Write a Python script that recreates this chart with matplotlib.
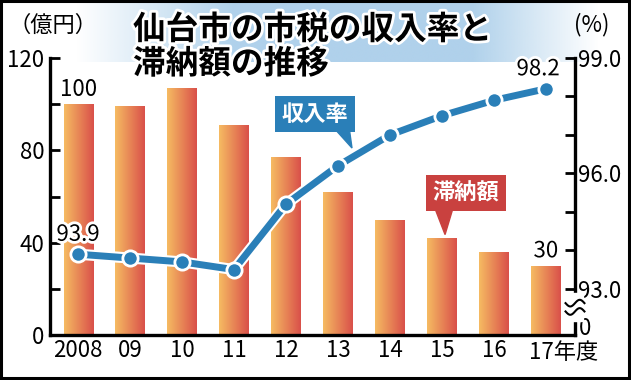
import matplotlib
matplotlib.use("Agg")
import matplotlib.pyplot as plt
import matplotlib.patheffects as pe
from matplotlib.patches import Polygon, Rectangle
import numpy as np

plt.rcParams['font.family'] = ['Noto Sans CJK JP', 'DejaVu Sans']

# data
years = ["2008", "09", "10", "11", "12", "13", "14", "15", "16", "17年度"]
arrears = [100, 99, 107, 91, 77, 62, 50, 42, 36, 30]          # 滞納額 (億円)
collect_rate = [93.9, 93.8, 93.7, 93.5, 95.2, 96.2, 97.0, 97.5, 97.9, 98.2]  # 収入率 (%)

title = "仙台市の市税の収入率と\n滞納額の推移"
blue = "#2a7fb8"
red = "#c9413f"

W, H = 631, 380
fig = plt.figure(figsize=(W / 100, H / 100), dpi=100)

# title background: light blue fading band
bg = fig.add_axes([0, 0, 1, 1], zorder=0)
bg.set_xlim(0, W)
bg.set_ylim(H, 0)
bg.axis("off")
xs = np.linspace(0, 1, 300)
alpha = np.clip(np.minimum((xs - 0.12) / 0.25, (0.95 - xs) / 0.2), 0, 1)
rgba = np.zeros((1, 300, 4))
rgba[..., :3] = matplotlib.colors.to_rgb("#9cc6e6")
rgba[..., 3] = alpha * 0.8
bg.imshow(rgba, extent=(0, W, 62, 0), aspect="auto", interpolation="bilinear")
bg.add_patch(Rectangle((1, 1), W - 3, H - 3, fill=False, lw=2.2, ec="black"))

# main axes
ax = fig.add_axes([50 / W, 1 - 335 / H, 525 / W, 277 / H], zorder=2)
ax.patch.set_alpha(0)
x = np.arange(len(years))
bars = ax.bar(x, arrears, width=0.56, color="none", zorder=2)

grad = np.zeros((1, 100, 3))
c1 = np.array(matplotlib.colors.to_rgb("#f6bb62"))
c2 = np.array(matplotlib.colors.to_rgb("#d9504a"))
for i, t in enumerate(np.linspace(0, 1, 100)):
    grad[0, i] = c1 * (1 - t) + c2 * t
for b in bars:
    im = ax.imshow(grad, extent=(b.get_x(), b.get_x() + b.get_width(), 0, b.get_height()),
                   aspect="auto", zorder=2, interpolation="bilinear")
    im.set_clip_path(b)

ax.set_xlim(-0.54, 9.56)
ax.set_ylim(0, 120)
ax.set_xticks(x)
ax.set_xticklabels(years[:-1] + [""], fontsize=16)
# last label sits a bit to the right, starting near the bar's left edge
ax.annotate(years[-1], xy=(x[-1], 0), xycoords=("data", "axes fraction"),
            xytext=(-12, -4.5), textcoords="offset points", ha="left", va="top", fontsize=16)
ax.set_yticks([0, 40, 80, 120])
ax.set_yticks([20, 60, 100], minor=True)
ax.tick_params(axis="y", which="both", direction="in", length=7, width=2, labelsize=16, pad=4)
ax.tick_params(axis="x", length=0, pad=3)
ax.spines["top"].set_visible(False)
ax.spines["right"].set_visible(False)
for s in ["left", "bottom"]:
    ax.spines[s].set_linewidth(2.4)

# rate axis
ax2 = ax.twinx()
ax2.set_zorder(3)
ax2.set_ylim(91.8, 99.0)
ax2.set_yticks([93.0, 96.0, 99.0])
ax2.set_yticklabels(["93.0", "96.0", "99.0"])
ax2.set_yticks([94, 95, 97, 98], minor=True)
ax2.tick_params(axis="y", which="both", direction="in", length=7, width=2, labelsize=16, pad=2)
ax2.spines["right"].set_linewidth(2.4)
for s in ["top", "left", "bottom"]:
    ax2.spines[s].set_visible(False)
# broken-axis zero sits just above the baseline
ax2.annotate("0", xy=(1, 0), xycoords="axes fraction", xytext=(3, 5), textcoords="offset points",
             ha="left", va="center", fontsize=16)

ax2.plot(x, collect_rate, color=blue, lw=5, solid_capstyle="butt",
         path_effects=[pe.Stroke(linewidth=8, foreground="white"), pe.Normal()], zorder=4)
ax2.plot(x, collect_rate, ls="none", marker="o", ms=11, mfc=blue, mec="white", mew=2, zorder=5)

# axis break on the right spine
tb = ax2.transAxes
ax2.add_patch(Rectangle((0.985, 0.05), 0.03, 0.1, transform=tb, color="white", zorder=5, clip_on=False))
wt = np.linspace(-0.018, 0.018, 40)
for yy in (0.085, 0.115):
    ax2.plot(1 + wt, yy + 0.012 * np.sin(wt / 0.018 * np.pi), transform=tb, color="black",
             lw=1.5, clip_on=False, zorder=6)

# value labels
halo = [pe.withStroke(linewidth=4, foreground="white")]
ax.text(0, arrears[0] + 1.5, "100", ha="center", va="bottom", fontsize=16, zorder=6)
ax.text(9, arrears[9] + 1.5, "30", ha="center", va="bottom", fontsize=16, zorder=6, path_effects=halo)
ax2.text(0, collect_rate[0] + 0.22, "93.9", ha="center", va="bottom", fontsize=16, zorder=6, path_effects=halo)
ax2.text(8.85, collect_rate[9] + 0.22, "98.2", ha="center", va="bottom", fontsize=16, zorder=6, path_effects=halo)

# callouts
def callout(cx, cy, text, color, base, tip):
    ax.add_patch(Polygon([base[0], base[1], tip], closed=True, color=color, zorder=7, clip_on=False))
    ax.text(cx, cy, text, ha="center", va="center", fontsize=16, fontweight="bold", color="white",
            zorder=8, bbox=dict(boxstyle="square,pad=0.3", fc=color, ec="none"))

callout(4.56, 95.7, "収入率", blue, [(4.95, 89), (5.22, 89)], (5.27, 81))
callout(7.46, 61.5, "滞納額", red, [(6.88, 54), (7.2, 54)], (7.06, 43.5))

# titles and units
fig.text(133 / W, 1 - 47 / H, title, fontsize=23.5, fontweight="bold", ha="left", va="center",
         linespacing=1.05, path_effects=[pe.withStroke(linewidth=4, foreground="white")], zorder=10)
fig.text(8 / W, 1 - 25 / H, "（億円）", fontsize=16, ha="left", va="center", zorder=10)
fig.text(574 / W, 1 - 25 / H, "(%)", fontsize=16, ha="left", va="center", zorder=10)

fig.savefig("out.png", dpi=100)
